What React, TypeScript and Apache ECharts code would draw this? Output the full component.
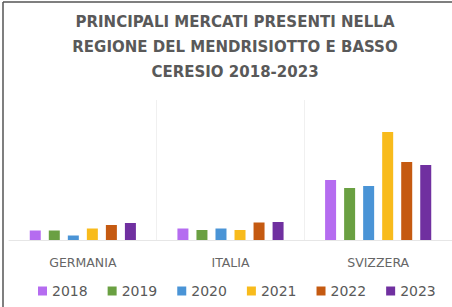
import React, { useEffect, useRef } from "react";
import * as echarts from "echarts";

const titleText = "PRINCIPALI MERCATI PRESENTI NELLA\nREGIONE DEL MENDRISIOTTO E BASSO\nCERESIO 2018-2023";
const categories = ["GERMANIA", "ITALIA", "SVIZZERA"];
const years = ["2018", "2019", "2020", "2021", "2022", "2023"];
const colors = ["#b56cf0", "#6aa042", "#4a94d6", "#f8bb1c", "#c55a11", "#7030a0"];
const values2018 = [9.5, 11.5, 60];
const values2019 = [9.5, 10, 52];
const values2020 = [4.5, 11.5, 54];
const values2021 = [11.5, 10, 108];
const values2022 = [15, 17.5, 78];
const values2023 = [17, 18, 75];
const seriesValues = [values2018, values2019, values2020, values2021, values2022, values2023];
const yMax = 140;

export default function App() {
  const ref = useRef<HTMLDivElement>(null);
  useEffect(() => {
    if (!ref.current) return;
    const chart = echarts.init(ref.current, null, { renderer: "svg" });
    chart.setOption({
      animation: false,
      backgroundColor: "#ffffff",
      title: {
        text: titleText,
        left: 235,
        textAlign: "center",
        top: 9,
        padding: 0,
        textStyle: {
          fontFamily: "DejaVu Sans",
          fontWeight: "bold",
          fontSize: 15,
          lineHeight: 25,
          color: "#595959",
        },
      },
      legend: {
        data: years,
        bottom: 4,
        left: 33,
        itemWidth: 9,
        itemHeight: 9,
        itemGap: 20,
        icon: "rect",
        textStyle: { fontFamily: "DejaVu Sans", fontSize: 14, color: "#595959" },
      },
      grid: { left: 9, right: 0, top: 100, bottom: 67, containLabel: false },
      xAxis: {
        type: "category",
        data: categories,
        axisLine: { show: true, lineStyle: { color: "#e6e6e6", width: 1 } },
        axisTick: { show: false },
        splitLine: { show: true, showMinLine: false, showMaxLine: false, lineStyle: { color: "#f0f0f0" } },
        axisLabel: { fontFamily: "DejaVu Sans", fontSize: 12.5, color: "#666666", margin: 16 },
      },
      yAxis: {
        type: "value",
        min: 0,
        max: yMax,
        show: false,
        splitLine: { show: false },
      },
      series: years.map((y, i) => ({
        name: y,
        type: "bar",
        data: seriesValues[i],
        barWidth: 11,
        barGap: "73%",
        itemStyle: { color: colors[i] },
      })),
      color: colors,
      graphic: [
        { type: "line", shape: { x1: 3, y1: 2, x2: 452, y2: 2 }, style: { stroke: "#555555", lineWidth: 1.5 } },
        { type: "line", shape: { x1: 3, y1: 2, x2: 3, y2: 307 }, style: { stroke: "#555555", lineWidth: 1.5 } },
      ],
    });
    return () => chart.dispose();
  }, []);
  return <div ref={ref} style={{ width: 452, height: 307, position: "absolute", left: 0, top: 0 }} />;
}
